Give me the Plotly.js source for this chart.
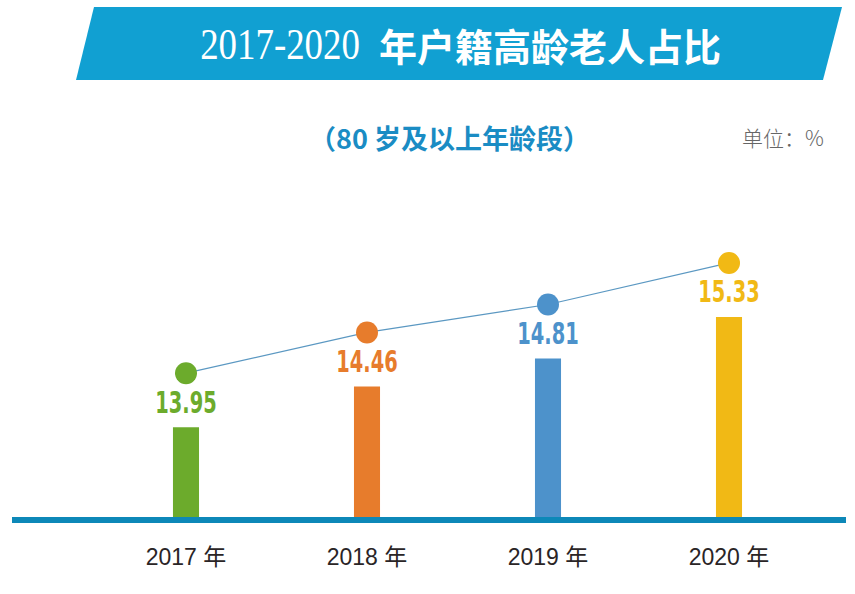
<!DOCTYPE html>
<html>
<head>
<meta charset="utf-8">
<script src="https://cdn.plot.ly/plotly-3.0.1.min.js"></script>
<style>html,body{margin:0;padding:0;background:#fff;}#chart{width:855px;height:594px;}</style>
</head>
<body>
<div id="chart"></div>
<script>
// ---- data ----
const years = ["2017 年", "2018 年", "2019 年", "2020 年"];
const values = [13.95, 14.46, 14.81, 15.33];
const colors = ["#6cab2c", "#e77c2c", "#4d92cb", "#f1b915"];
const titleNum = "2017-2020";
const titleCn = "年户籍高龄老人占比";
const subtitle = "（80 岁及以上年龄段）";
const unitText = "单位：%";

// ---- layout helpers (pixel -> paper) ----
const W = 855, H = 594;
const px = x => x / W;
const py = y => 1 - y / H;

const yBase = 12.826, pxPerUnit = 79.9, plotTop = 100, plotBot = 517;
const yTop = yBase + (plotBot - plotTop) / pxPerUnit;
const shiftM = 54 / pxPerUnit, shiftT = 22 / pxPerUnit;

const traces = [
  {
    type: "bar", x: years, y: values, width: 0.144,
    marker: {color: colors}, hoverinfo: "skip", xaxis: "x", yaxis: "y"
  },
  {
    type: "scatter", mode: "lines+markers", x: years, y: values,
    line: {color: "#5b98c2", width: 1.2},
    marker: {color: colors, size: 22},
    xaxis: "x", yaxis: "y2", hoverinfo: "skip"
  },
  {
    type: "scatter", mode: "text", x: years, y: values,
    text: values.map(v => v.toFixed(2)),
    textposition: "middle center",
    textfont: {family: "DejaVu Sans Condensed, DejaVu Sans, sans-serif", size: 30, color: colors, weight: "bold"},
    xaxis: "x", yaxis: "y3", hoverinfo: "skip"
  }
];

const yDomain = [py(plotBot), py(plotTop)];
const layout = {
  width: W, height: H,
  margin: {l: 0, r: 0, t: 0, b: 0},
  paper_bgcolor: "#ffffff", plot_bgcolor: "rgba(0,0,0,0)",
  showlegend: false,
  xaxis: {
    domain: [px(12), px(846)],
    type: "category",
    range: [-0.9613, 3.6464],
    showline: true, linecolor: "#0d88b8", linewidth: 6,
    showgrid: false, zeroline: false,
    ticks: "outside", ticklen: 14, tickcolor: "rgba(0,0,0,0)",
    tickfont: {family: "Liberation Sans, Noto Sans CJK SC, sans-serif", size: 23, color: "#2a2526"}
  },
  yaxis: {domain: yDomain, range: [yBase, yTop], visible: false, fixedrange: true},
  yaxis2: {domain: yDomain, range: [yBase - shiftM, yTop - shiftM], overlaying: "y", visible: false},
  yaxis3: {domain: yDomain, range: [yBase - shiftT, yTop - shiftT], overlaying: "y", visible: false},
  shapes: [
    {
      type: "path", xref: "paper", yref: "paper", layer: "below",
      path: `M ${px(94)} ${py(7)} L ${px(842)} ${py(7)} L ${px(823)} ${py(80)} L ${px(76)} ${py(80)} Z`,
      fillcolor: "#11a0d2", line: {width: 0}
    }
  ],
  annotations: [
    {
      xref: "paper", yref: "paper", x: px(362), y: py(44), xanchor: "right", yanchor: "middle",
      text: titleNum, showarrow: false,
      font: {family: "Liberation Serif, DejaVu Serif, serif", size: 45, color: "#ffffff"}
    },
    {
      xref: "paper", yref: "paper", x: px(377), y: py(44), xanchor: "left", yanchor: "middle",
      text: titleCn, showarrow: false,
      font: {family: "Noto Sans CJK SC, sans-serif", size: 38, color: "#ffffff", weight: "bold"}
    },
    {
      xref: "paper", yref: "paper", x: px(449), y: py(137), xanchor: "center", yanchor: "middle",
      text: subtitle, showarrow: false,
      font: {family: "Noto Sans CJK SC, sans-serif", size: 27, color: "#1a8cc4", weight: "bold"}
    },
    {
      xref: "paper", yref: "paper", x: px(783), y: py(137), xanchor: "center", yanchor: "middle",
      text: unitText, showarrow: false,
      font: {family: "Noto Sans CJK SC, sans-serif", size: 21, color: "#666666", weight: 300}
    }
  ]
};

// horizontally condense a text element around an anchor (left/center/right of its box)
function condense(el, s, anchor) {
  const b = el.getBBox();
  const ax = anchor === "right" ? b.x + b.width : anchor === "left" ? b.x : b.x + b.width / 2;
  const prev = el.getAttribute("transform") || "";
  el.setAttribute("transform", `translate(${ax * (1 - s)},0) scale(${s},1) ${prev}`);
}

Plotly.newPlot("chart", traces, layout, {displayModeBar: false, staticPlot: true}).then(gd => {
  gd.querySelectorAll(".textpoint text").forEach(t => condense(t, 0.72, "center"));
  const ann = gd.querySelectorAll(".annotation-text");
  if (ann[0]) condense(ann[0], 0.82, "right");
});
</script>
</body>
</html>
